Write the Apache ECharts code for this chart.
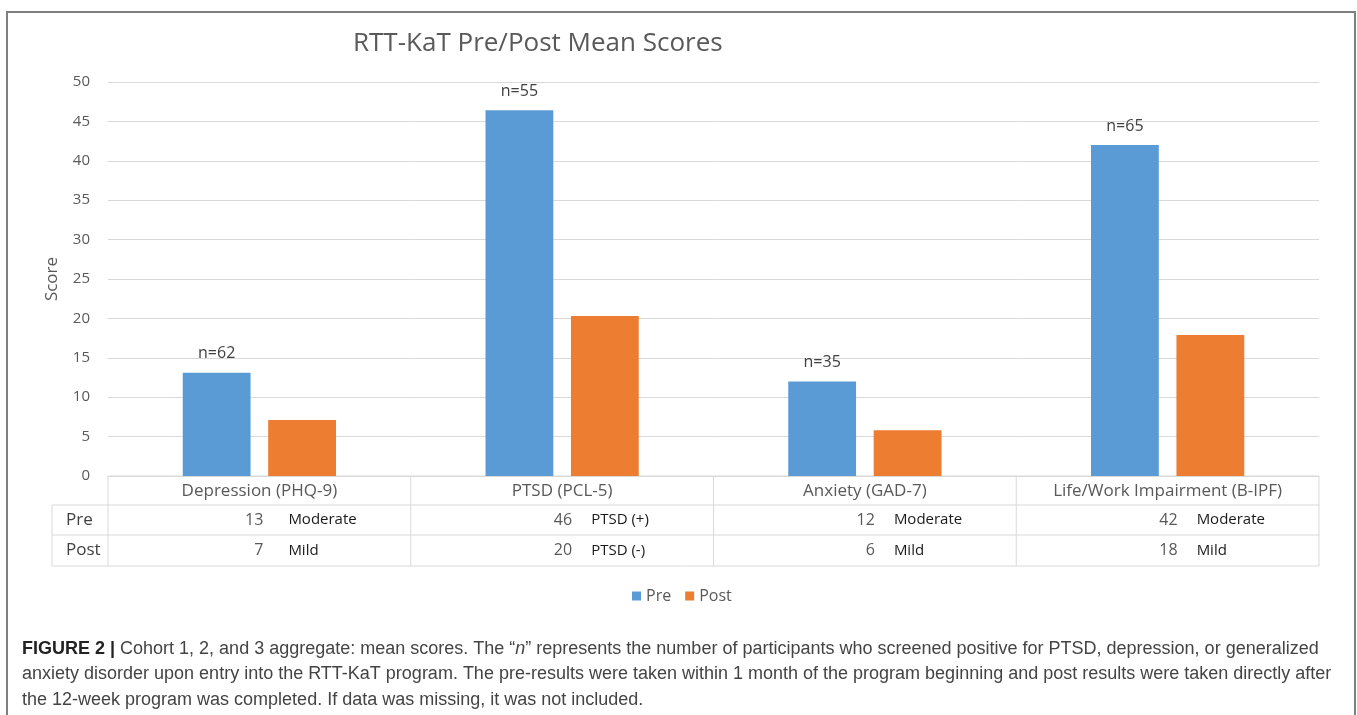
<!DOCTYPE html>
<html>
<head>
<meta charset="utf-8">
<script src="https://cdn.jsdelivr.net/npm/echarts@6/dist/echarts.min.js"></script>
<style>
html,body{margin:0;padding:0;background:#fff;}
#chart{width:1357px;height:715px;}
</style>
</head>
<body>
<div id="chart"></div>
<script>
// ---- data ----
const categories = ['Depression (PHQ-9)', 'PTSD (PCL-5)', 'Anxiety (GAD-7)', 'Life/Work Impairment (B-IPF)'];
const preScores = [13.1, 46.4, 12.0, 42.0];
const postScores = [7.1, 20.3, 5.8, 17.9];
const nCounts = [62, 55, 35, 65];
const preTable = [13, 46, 12, 42];
const postTable = [7, 20, 6, 18];
const preSeverity = ['Moderate', 'PTSD (+)', 'Moderate', 'Moderate'];
const postSeverity = ['Mild', 'PTSD (-)', 'Mild', 'Mild'];
const yMin = 0, yMax = 50, yStep = 5;
const rowLabels = ['Pre', 'Post'];

const FONT = '"Open Sans", Lato, sans-serif';
const chart = echarts.init(document.getElementById('chart'));

chart.setOption({
  animation: false,
  backgroundColor: '#fff',
  title: {
    text: 'RTT-KaT Pre/Post Mean Scores',
    left: 348, top: 26,
    textStyle: {fontFamily: FONT, fontSize: 26, fontWeight: 'normal', color: '#595959'}
  },
  legend: {
    data: ['Pre', 'Post'],
    left: 627, top: 583,
    icon: 'rect', itemWidth: 9, itemHeight: 9, itemGap: 14,
    textStyle: {fontFamily: FONT, fontSize: 16, color: '#595959'}
  },
  grid: {left: 108, right: 38, top: 82, bottom: 239},
  xAxis: {
    type: 'category',
    data: categories,
    axisLine: {lineStyle: {color: '#d9d9d9'}},
    axisTick: {show: false},
    axisLabel: {margin: 7, fontFamily: FONT, fontSize: 17, color: '#595959'}
  },
  yAxis: {
    type: 'value', min: yMin, max: yMax, interval: yStep,
    name: 'Score', nameLocation: 'middle', nameGap: 47,
    nameTextStyle: {fontFamily: FONT, fontSize: 17, color: '#595959'},
    axisLine: {show: false}, axisTick: {show: false},
    axisLabel: {margin: 18, fontFamily: FONT, fontSize: 15, color: '#595959'},
    splitLine: {lineStyle: {color: '#d9d9d9'}}
  },
  series: [
    {
      name: 'Pre', type: 'bar', data: preScores,
      barWidth: '22.4%', barGap: '26%',
      itemStyle: {color: '#5b9bd5'},
      label: {
        show: true, position: 'top', distance: 11,
        formatter: p => 'n=' + nCounts[p.dataIndex],
        fontFamily: FONT, fontSize: 16, color: '#404040'
      }
    },
    {
      name: 'Post', type: 'bar', data: postScores,
      barWidth: '22.4%',
      itemStyle: {color: '#ed7d31'}
    }
  ]
});

// ---- data table + frame + caption ----
function buildGraphics() {
  const g = [];
  const c0 = chart.convertToPixel({xAxisIndex: 0}, categories[0]);
  const c1 = chart.convertToPixel({xAxisIndex: 0}, categories[1]);
  const band = c1 - c0;
  const y0 = chart.convertToPixel({yAxisIndex: 0}, 0);
  const left = c0 - band / 2;
  const right = left + band * categories.length;
  const rows = [y0, y0 + 29, y0 + 59, y0 + 90];
  const labelLeft = 52;
  const line = (x1, y1, x2, y2) => g.push({
    type: 'line', silent: true,
    shape: {x1, y1, x2, y2},
    style: {stroke: '#d9d9d9', lineWidth: 1}
  });
  line(left, rows[0], right, rows[0]);
  line(labelLeft, rows[1], right, rows[1]);
  line(labelLeft, rows[2], right, rows[2]);
  line(labelLeft, rows[3], right, rows[3]);
  line(labelLeft, rows[1], labelLeft, rows[3]);
  for (let i = 0; i <= categories.length; i++) {
    const x = left + band * i;
    line(x, rows[0], x, rows[3]);
  }
  rowLabels.forEach((t, r) => g.push({
    type: 'text', silent: true,
    style: {x: labelLeft + 14, y: (rows[r + 1] + rows[r + 2]) / 2, text: t,
      align: 'left', verticalAlign: 'middle', font: '17px ' + FONT, fill: '#404040'}
  }));
  categories.forEach((cat, i) => {
    const cx = chart.convertToPixel({xAxisIndex: 0}, cat);
    [[preTable, preSeverity], [postTable, postSeverity]].forEach(([vals, sev], r) => {
      const cy = (rows[r + 1] + rows[r + 2]) / 2;
      g.push({type: 'text', silent: true,
        style: {x: cx + (i === 0 ? 4 : 10), y: cy, text: String(vals[i]), align: 'right', verticalAlign: 'middle',
          font: '16px ' + FONT, fill: '#595959'}});
      g.push({type: 'text', silent: true,
        style: {x: cx + 29, y: cy, text: sev[i], align: 'left', verticalAlign: 'middle',
          font: '15px ' + FONT, fill: '#1a1a1a'}});
    });
  });
  g.push({type: 'rect', silent: true,
    shape: {x: 7, y: 12, width: 1348, height: 760},
    style: {fill: 'none', stroke: '#7f7f7f', lineWidth: 2}});
  const capFont = '"Liberation Sans", Arial, sans-serif';
  const rich = {
    b: {fontFamily: capFont, fontSize: 18, fontWeight: 'bold', fill: '#222'},
    t: {fontFamily: capFont, fontSize: 18, fill: '#444'},
    i: {fontFamily: capFont, fontSize: 18, fontStyle: 'italic', fill: '#444'}
  };
  const capLines = [
    '{b|FIGURE 2 | }{t|Cohort 1, 2, and 3 aggregate: mean scores. The \u201c}{i|n}{t|\u201d represents the number of participants who screened positive for PTSD, depression, or generalized}',
    '{t|anxiety disorder upon entry into the RTT-KaT program. The pre-results were taken within 1 month of the program beginning and post results were taken directly after}',
    '{t|the 12-week program was completed. If data was missing, it was not included.}'
  ];
  capLines.forEach((t, k) => g.push({
    type: 'text', silent: true,
    style: {x: 22, y: 649 + k * 25.5, text: t, rich, verticalAlign: 'middle', align: 'left'}
  }));
  chart.setOption({graphic: g});
}
buildGraphics();
</script>
</body>
</html>
